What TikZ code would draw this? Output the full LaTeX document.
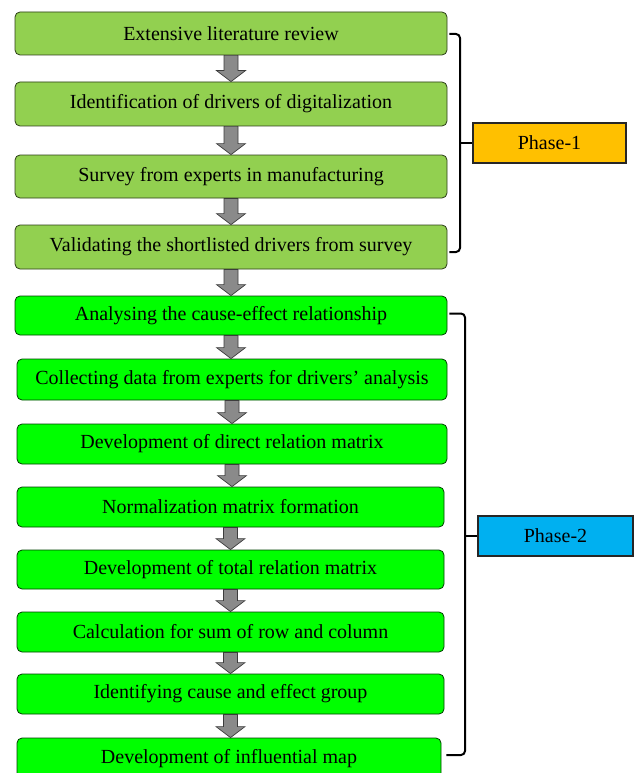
\documentclass[tikz,border=0pt]{standalone}
\usepackage{fontspec}
\setmainfont{Liberation Serif}
\usetikzlibrary{calc}
\definecolor{pone}{HTML}{92D050}
\definecolor{ptwo}{HTML}{00FF00}
\definecolor{orangeph}{HTML}{FFC000}
\definecolor{blueph}{HTML}{00B0F0}
\definecolor{arrfill}{HTML}{8A8A8A}
\definecolor{arrdraw}{HTML}{3C3C3C}
\tikzset{
  stepone/.style={draw=black!70!pone, line width=0.8pt, fill=pone, rounded corners=5pt, inner sep=0pt, font=\fontsize{20}{24}\selectfont},
  steptwo/.style={draw=black!75!ptwo, line width=0.8pt, fill=ptwo, rounded corners=5pt, inner sep=0pt, font=\fontsize{20}{24}\selectfont},
  phasebox/.style={draw=black!85, line width=1.2pt, inner sep=0pt, minimum width=153pt, minimum height=40pt, font=\fontsize{20}{24}\selectfont},
  bracketline/.style={draw=black, line width=2pt, rounded corners=4pt},
  arrowshape/.style={fill=arrfill, draw=arrdraw, line width=0.7pt, line join=miter}
}
\newcommand{\flowarrow}[2]{%
  \path[arrowshape] ($(#1.south)+(-7pt,0)$) -- ($(#1.south)+(7pt,0)$)
    -- ($(#1.south |- #2.north)+(7pt,11pt)$) -- ($(#1.south |- #2.north)+(14.5pt,11pt)$)
    -- (#1.south |- #2.north) -- ($(#1.south |- #2.north)+(-14.5pt,11pt)$)
    -- ($(#1.south |- #2.north)+(-7pt,11pt)$) -- cycle;}
\begin{document}
\begin{tikzpicture}[x=1pt,y=1pt]
\useasboundingbox (0,0) rectangle (635,-773);
\node[stepone, minimum width=432pt, minimum height=43pt] (b1) at (231,-33.5) {Extensive literature review};
\node[stepone, minimum width=432pt, minimum height=44pt] (b2) at (231,-104) {Identification of drivers of digitalization};
\node[stepone, minimum width=432pt, minimum height=43pt] (b3) at (231,-176.5) {Survey from experts in manufacturing};
\node[stepone, minimum width=432pt, minimum height=44pt] (b4) at (231,-247) {Validating the shortlisted drivers from survey};
\node[steptwo, minimum width=432pt, minimum height=39pt] (b5) at (231,-315.5) {Analysing the cause-effect relationship};
\node[steptwo, minimum width=430pt, minimum height=41pt] (b6) at (232,-379.5) {Collecting data from experts for drivers’ analysis};
\node[steptwo, minimum width=430pt, minimum height=40pt] (b7) at (232,-444) {Development of direct relation matrix};
\node[steptwo, minimum width=427pt, minimum height=40pt] (b8) at (230.5,-507) {Normalization matrix formation};
\node[steptwo, minimum width=427pt, minimum height=39pt] (b9) at (230.5,-569.5) {Development of total relation matrix};
\node[steptwo, minimum width=427pt, minimum height=40pt] (b10) at (230.5,-632) {Calculation for sum of row and column};
\node[steptwo, minimum width=427pt, minimum height=40pt] (b11) at (230.5,-694) {Identifying cause and effect group};
\node[steptwo, minimum width=424pt, minimum height=42pt] (b12) at (229,-759) {Development of influential map};
\flowarrow{b1}{b2}
\flowarrow{b2}{b3}
\flowarrow{b3}{b4}
\flowarrow{b4}{b5}
\flowarrow{b5}{b6}
\flowarrow{b6}{b7}
\flowarrow{b7}{b8}
\flowarrow{b8}{b9}
\flowarrow{b9}{b10}
\flowarrow{b10}{b11}
\flowarrow{b11}{b12}
\node[phasebox, fill=orangeph] (ph1) at (549.5,-143) {Phase-1};
\node[phasebox, fill=blueph, minimum width=155pt] (ph2) at (555.5,-536) {Phase-2};
\coordinate (k1) at (460,-143);
\coordinate (k2) at (465,-536);
\draw[bracketline] ($(b1.east)+(2pt,-0.5pt)$) -- ($(b1.east -| k1)+(0,-0.5pt)$) -- ($(b4.east -| k1)+(0,-5pt)$) -- ($(b4.east)+(2pt,-5pt)$);
\draw[line width=2pt] (k1) -- (ph1.west);
\draw[bracketline] ($(b5.east)+(2pt,2pt)$) -- ($(b5.east -| k2)+(0,2pt)$) -- ($(b12.east -| k2)+(0,4pt)$) -- ($(b12.east)+(5pt,4pt)$);
\draw[line width=2pt] (k2) -- (ph2.west);
\end{tikzpicture}
\end{document}
